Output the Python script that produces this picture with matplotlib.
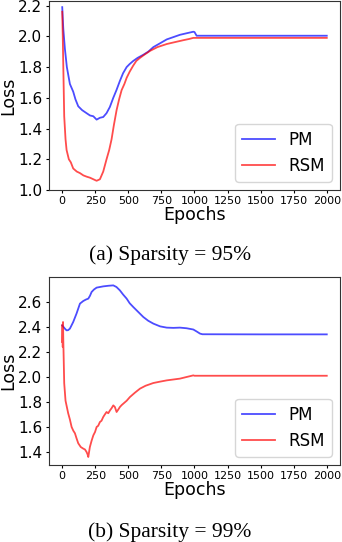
import numpy as np
import matplotlib
matplotlib.use("Agg")
import matplotlib.pyplot as plt

# (a) sparsity 95%
ep_a_pm = [0, 8, 20, 35, 58, 83, 100, 121, 150, 184, 210, 235, 260, 285, 310, 335,
           360, 386, 410, 436, 460, 487, 510, 537, 570, 613, 650, 689, 740, 790,
           840, 890, 940, 991, 1000, 1016, 1100, 1500, 2000]
loss_a_pm = [2.19, 2.05, 1.92, 1.80, 1.69, 1.64, 1.59, 1.545, 1.52, 1.50, 1.485,
             1.48, 1.458, 1.47, 1.475, 1.50, 1.54, 1.60, 1.65, 1.71, 1.76, 1.80,
             1.82, 1.84, 1.86, 1.88, 1.90, 1.93, 1.955, 1.98, 1.995, 2.01, 2.02,
             2.03, 2.028, 2.004, 2.004, 2.004, 2.004]

ep_a_rsm = [0, 4, 8, 15, 25, 33, 50, 65, 83, 110, 134, 160, 184, 210, 235, 260,
            285, 310, 335, 355, 373, 390, 411, 430, 449, 470, 487, 510, 537, 560,
            588, 620, 663, 720, 790, 850, 916, 960, 991, 1000, 1500, 2000]
loss_a_rsm = [2.16, 2.0, 1.81, 1.48, 1.33, 1.26, 1.2, 1.18, 1.14, 1.12, 1.11,
              1.095, 1.087, 1.08, 1.07, 1.06, 1.07, 1.12, 1.2, 1.26, 1.33, 1.42,
              1.52, 1.59, 1.65, 1.69, 1.73, 1.77, 1.81, 1.84, 1.86, 1.88, 1.905,
              1.93, 1.95, 1.962, 1.975, 1.983, 1.99, 1.99, 1.99, 1.99]

# (b) sparsity 99%
ep_b_pm = [0, 10, 20, 33, 45, 58, 83, 108, 134, 159, 180, 197, 210, 222, 240, 260,
           285, 310, 350, 386, 410, 436, 460, 487, 510, 537, 575, 613, 650, 689,
           740, 790, 840, 890, 940, 991, 1015, 1042, 1060, 1500, 2000]
loss_b_pm = [2.413, 2.40, 2.387, 2.373, 2.375, 2.387, 2.44, 2.507, 2.587, 2.608,
             2.62, 2.627, 2.65, 2.68, 2.70, 2.715, 2.72, 2.725, 2.73, 2.733, 2.72,
             2.693, 2.66, 2.627, 2.59, 2.56, 2.52, 2.48, 2.45, 2.427, 2.405, 2.395,
             2.393, 2.395, 2.39, 2.38, 2.365, 2.347, 2.342, 2.341, 2.341]

ep_b_rsm = [0, 2, 4, 6, 8, 11, 15, 20, 25, 35, 45, 58, 71, 84, 96, 108, 121, 140,
            159, 172, 184, 192, 197, 203, 209, 222, 235, 248, 260, 272, 285, 297,
            310, 322, 335, 348, 361, 373, 386, 398, 411, 424, 436, 449, 462, 487,
            512, 550, 588, 630, 689, 740, 790, 840, 890, 940, 991, 1000, 1500, 2000]
loss_b_rsm = [2.28, 2.42, 2.24, 2.44, 2.30, 2.15, 1.95, 1.88, 1.81, 1.76, 1.71,
              1.66, 1.60, 1.57, 1.55, 1.51, 1.47, 1.44, 1.427, 1.42, 1.40, 1.38,
              1.36, 1.40, 1.44, 1.49, 1.533, 1.56, 1.60, 1.61, 1.64, 1.65, 1.68,
              1.70, 1.72, 1.71, 1.733, 1.75, 1.773, 1.76, 1.72, 1.74, 1.76, 1.775,
              1.787, 1.81, 1.84, 1.875, 1.907, 1.93, 1.952, 1.963, 1.973, 1.98,
              1.987, 2.0, 2.013, 2.01, 2.01, 2.01]

xticks = [0, 250, 500, 750, 1000, 1250, 1500, 1750, 2000]
captions = ["(a) Sparsity = 95%", "(b) Sparsity = 99%"]

fig = plt.figure(figsize=(3.42, 5.42), dpi=100)
ax1 = fig.add_axes([49 / 342, 352 / 542, 291 / 342, 189 / 542])
ax2 = fig.add_axes([49 / 342, 77 / 542, 291 / 342, 188 / 542])

panels = [
    (ax1, ep_a_pm, loss_a_pm, ep_a_rsm, loss_a_rsm, (1.0, 2.23), [1.0, 1.2, 1.4, 1.6, 1.8, 2.0, 2.2]),
    (ax2, ep_b_pm, loss_b_pm, ep_b_rsm, loss_b_rsm, (1.296, 2.8), [1.4, 1.6, 1.8, 2.0, 2.2, 2.4, 2.6]),
]

for ax, xp, yp, xr, yr, ylim, yticks in panels:
    ax.plot(xp, yp, color="b", alpha=0.7, linewidth=1.3, label="PM")
    ax.plot(xr, yr, color="r", alpha=0.7, linewidth=1.3, label="RSM")
    ax.set_xlim(-100, 2100)
    ax.set_ylim(*ylim)
    ax.set_xticks(xticks)
    ax.set_yticks(yticks)
    ax.tick_params(axis="x", labelsize=8, length=2.2, pad=1.8)
    ax.tick_params(axis="y", labelsize=11, length=2.2, pad=2.5)
    ax.set_xlabel("Epochs", fontsize=12.5, labelpad=0)
    ax.set_ylabel("Loss", fontsize=12.5, labelpad=1)
    ax.legend(loc="lower right", fontsize=12)
    for s in ax.spines.values():
        s.set_color("#333333")

fig.text(170 / 342, 1 - 255 / 542, captions[0], ha="center", va="center",
         family="Liberation Serif", fontsize=15.5)
fig.text(170 / 342, 1 - 532 / 542, captions[1], ha="center", va="center",
         family="Liberation Serif", fontsize=15.5)

fig.savefig("out.png", dpi=100)
